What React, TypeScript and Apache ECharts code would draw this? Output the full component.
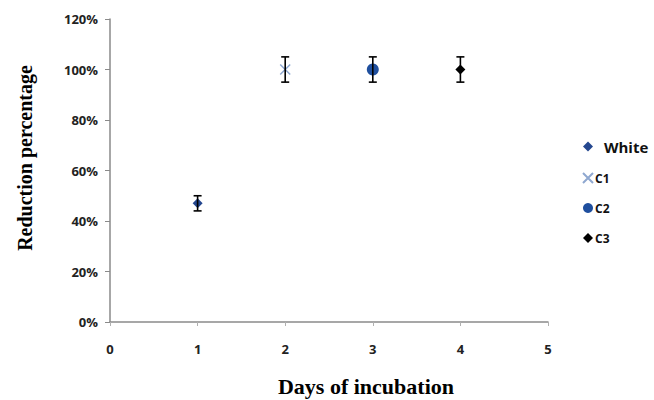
import React, { useEffect, useRef } from "react";
import * as echarts from "echarts";

const seriesNames = ["White", "C1", "C2", "C3"];
const days = [1, 2, 3, 4];
const meanValues = [47, 100, 100, 100];
const errorValues = [3, 5, 5, 5];
const xTicks = [0, 1, 2, 3, 4, 5];
const yTicks = [0, 20, 40, 60, 80, 100, 120];

const colors = ["#24478F", "#8FA8D0", "#1F4F9E", "#000000"];
const symbols = [
  "diamond",
  "path://M0,0L10,10M10,0L0,10",
  "circle",
  "diamond",
];
const sizes = [10, 10, 12, 10];

export default function App() {
  const ref = useRef<HTMLDivElement>(null);
  useEffect(() => {
    if (!ref.current) return;
    const chart = echarts.init(ref.current, null, { renderer: "svg" });
    const scatter = seriesNames.map((name, i) => ({
      name,
      type: "scatter",
      symbol: symbols[i],
      symbolSize: sizes[i],
      itemStyle:
        i === 1
          ? { color: "transparent", borderColor: colors[i], borderWidth: 1.5, opacity: 1 }
          : { color: colors[i], opacity: 1 },
      data: [[days[i], meanValues[i]]],
      z: 2,
    }));
    const errData = days.map((d, i) => [
      d,
      meanValues[i] - errorValues[i],
      meanValues[i] + errorValues[i],
    ]);
    const errSeries = {
      type: "custom",
      name: "err",
      z: 3,
      renderItem: (params: any, api: any) => {
        const x = api.value(0);
        const lo = api.coord([x, api.value(1)]);
        const hi = api.coord([x, api.value(2)]);
        const w = 4;
        const style = { stroke: "#000", lineWidth: 1.6 };
        return {
          type: "group",
          children: [
            { type: "line", shape: { x1: lo[0], y1: lo[1], x2: hi[0], y2: hi[1] }, style },
            { type: "line", shape: { x1: lo[0] - w, y1: lo[1], x2: lo[0] + w, y2: lo[1] }, style },
            { type: "line", shape: { x1: hi[0] - w, y1: hi[1], x2: hi[0] + w, y2: hi[1] }, style },
          ],
        };
      },
      encode: { x: 0, y: [1, 2] },
      data: errData,
    };
    chart.setOption({
      animation: false,
      backgroundColor: "#ffffff",
      grid: { left: 110, right: 106, top: 19, bottom: 78 },
      xAxis: {
        type: "value",
        min: xTicks[0],
        max: xTicks[xTicks.length - 1],
        interval: 1,
        splitLine: { show: false },
        axisLine: { lineStyle: { color: "#8a8a8a", width: 1.5 } },
        axisTick: { show: true, length: 4, lineStyle: { color: "#b0b0b0" } },
        axisLabel: {
          margin: 20,
          fontFamily: "Open Sans",
          fontWeight: "bold",
          fontSize: 13,
          color: "#222",
        },
      },
      yAxis: {
        type: "value",
        min: yTicks[0],
        max: yTicks[yTicks.length - 1],
        interval: 20,
        splitLine: { show: false },
        axisLine: { show: true, lineStyle: { color: "#8a8a8a", width: 1.5 } },
        axisTick: { show: true, length: 5, lineStyle: { color: "#8a8a8a" } },
        axisLabel: {
          margin: 12,
          fontFamily: "Open Sans",
          fontWeight: "bold",
          fontSize: 13,
          color: "#222",
          formatter: (v: number) => v + "%",
        },
      },
      legend: {
        data: seriesNames,
        orient: "vertical",
        left: 577,
        top: 134,
        itemWidth: 10,
        itemHeight: 10,
        itemGap: 18,
        formatter: (n: string) => (n === "White" ? `{w|${n}}` : `{c|${n}}`),
        textStyle: {
          rich: {
            w: { fontFamily: "Open Sans", fontWeight: "bold", fontSize: 15, color: "#111", padding: [0, 0, 0, 6] },
            c: { fontFamily: "Open Sans", fontWeight: "bold", fontSize: 12, color: "#111", padding: [0, 0, 0, -3] },
          },
        },
      },
      graphic: [
        {
          type: "text",
          x: 25,
          y: 158,
          rotation: Math.PI / 2,
          style: {
            text: "Reduction percentage",
            fontFamily: "Liberation Serif",
            fontWeight: "bold",
            fontSize: 20,
            fill: "#000",
            align: "center",
            verticalAlign: "middle",
          },
        },
        {
          type: "text",
          x: 366,
          y: 386,
          style: {
            text: "Days of incubation",
            fontFamily: "Liberation Serif",
            fontWeight: "bold",
            fontSize: 22,
            fill: "#000",
            align: "center",
            verticalAlign: "middle",
          },
        },
      ],
      series: [...scatter, errSeries],
    });
    return () => chart.dispose();
  }, []);
  return (
    <div
      ref={ref}
      style={{ position: "fixed", left: 0, top: 0, width: 654, height: 400 }}
    />
  );
}
